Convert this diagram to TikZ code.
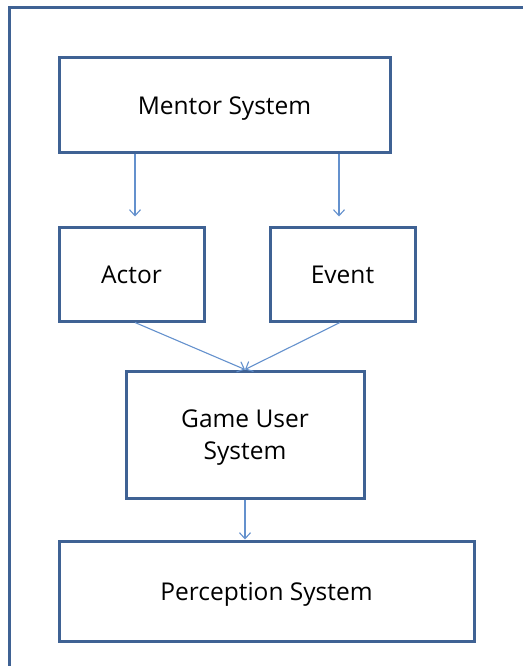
\documentclass[tikz,border=0pt]{standalone}
\usepackage{fontspec}
\setmainfont{Open Sans}
\usetikzlibrary{arrows.meta}

\definecolor{boxblue}{RGB}{63,98,148}
\definecolor{flowblue}{RGB}{100,145,205}

\begin{document}
\begin{tikzpicture}[x=1pt, y=-1pt,
    block/.style={draw=boxblue, line width=3pt, align=center, font=\fontsize{24.5pt}{32pt}\selectfont, inner sep=0pt},
    oneline/.style={block, text height=25pt, text depth=6pt},
    flow/.style={draw=flowblue, line width=1.1pt, -{Straight Barb[length=6pt, width=11pt]}}]
  \useasboundingbox (0,0) rectangle (522,666);
  \draw[boxblue, line width=3pt] (9,670) -- (9,8) -- (526,8);

  \node[oneline, minimum width=331pt, minimum height=94pt] (mentor) at (224.5,105) {Mentor System};
  \node[oneline, minimum width=145pt, minimum height=94pt] (actor) at (131.5,274) {Actor};
  \node[oneline, minimum width=145pt, minimum height=94pt] (event) at (342.5,274) {Event};
  \node[block, text depth=-1pt, minimum width=238pt, minimum height=127pt] (game) at (245,434.5) {Game User\\System};
  \node[oneline, minimum width=415pt, minimum height=100pt] (percep) at (266.5,591) {Perception System};

  \draw[flow, shorten >=9pt] ([xshift=3.5pt]actor.north |- mentor.south) -- ([xshift=3.5pt]actor.north);
  \draw[flow, shorten >=9pt] ([xshift=-3.5pt]event.north |- mentor.south) -- ([xshift=-3.5pt]event.north);
  \draw[flow] ([xshift=3.5pt]actor.south) -- (game.north);
  \draw[flow] ([xshift=-2.5pt]event.south) -- (game.north);
  \draw[flow] (game.south) -- (game.south |- percep.north);
\end{tikzpicture}
\end{document}
